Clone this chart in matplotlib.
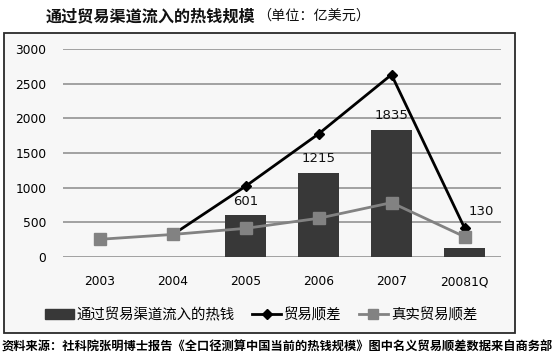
import numpy as np
import matplotlib
matplotlib.use("Agg")
import matplotlib.pyplot as plt
from matplotlib.patches import Rectangle
from matplotlib.lines import Line2D

plt.rcParams['font.family'] = ['Noto Sans CJK SC', 'DejaVu Sans']

# ── data ────────────────────────────────────────────────────────────────────
categories = ["2003", "2004", "2005", "2006", "2007", "20081Q"]
hot_money = [np.nan, np.nan, 601, 1215, 1835, 130]          # bars
trade_surplus = [np.nan, 320, 1020, 1775, 2630, 420]         # black diamonds
real_surplus = [255, 325, 413, 558, 784, 293]                # grey squares
bar_labels = ["", "", "601", "1215", "1835", "130"]
yticks = [0, 500, 1000, 1500, 2000, 2500, 3000]

BAR_COL = "#383838"
LINE_COL = "#000000"
REAL_COL = "#828282"
GRID_COL = "#8a8a8a"

fig = plt.figure(figsize=(5.6, 3.64), dpi=100)
fig.patch.set_facecolor("white")

# outer chart box
box = Rectangle((4 / 560, 31 / 364), 511 / 560, 300 / 364,
                transform=fig.transFigure, facecolor="#f7f7f7",
                edgecolor="#2a2a2a", lw=1.3, zorder=-1)
fig.patches.append(box)

ax = fig.add_axes([63 / 560, 107 / 364, 438 / 560, 208 / 364])
ax.set_facecolor("none")
ax.set_zorder(1)
x = np.arange(len(categories))

ax.bar(x, hot_money, width=0.56, color=BAR_COL, zorder=2)
ax.plot(x, trade_surplus, color=LINE_COL, lw=2.0, marker="D", ms=5, zorder=3)
ax.plot(x, real_surplus, color=REAL_COL, lw=2.0, marker="s", ms=8, zorder=4)

for i, lab in enumerate(bar_labels):
    if not lab:
        continue
    if i == len(categories) - 1:
        ax.text(i + 0.23, trade_surplus[i] + 230, lab, ha="center", va="center",
                fontsize=9.5, family="DejaVu Sans", color="#111")
    else:
        ax.text(i, hot_money[i] + 200, lab, ha="center", va="center",
                fontsize=9.5, family="DejaVu Sans", color="#111")

ax.set_xlim(-0.5, len(categories) - 0.5)
ax.set_ylim(0, 3000)
ax.set_yticks(yticks)
ax.set_xticks(x)
ax.set_xticklabels(categories, family="DejaVu Sans", fontsize=8.8)
ax.set_yticklabels([str(v) for v in yticks], family="DejaVu Sans", fontsize=8.8)
ax.tick_params(axis="y", length=0, pad=12)
ax.tick_params(axis="x", length=0, pad=13)
ax.grid(axis="y", color=GRID_COL, lw=1.1, zorder=1)
ax.set_axisbelow(True)
for s in ax.spines.values():
    s.set_visible(False)

# legend
handles = [
    Rectangle((0, 0), 1, 1, color=BAR_COL),
    Line2D([], [], color=LINE_COL, lw=2.0, marker="D", ms=5),
    Line2D([], [], color=REAL_COL, lw=2.0, marker="s", ms=7),
]
labels = ["通过贸易渠道流入的热钱", "贸易顺差", "真实贸易顺差"]
fig.legend(handles, labels, loc="center", bbox_to_anchor=(261 / 560, 1 - 315 / 364),
           ncol=3, frameon=False, fontsize=10.4, handlelength=2.0,
           handletextpad=0.2, columnspacing=1.2)

# title
fig.text(46 / 560, 1 - 16 / 364, "通过贸易渠道流入的热钱规模", fontsize=11.6,
         fontweight="bold", ha="left", va="center", color="#111")
fig.text(257 / 560, 1 - 16 / 364, "（单位：亿美元）", fontsize=10.2,
         ha="left", va="center", color="#111")

# footer
fig.text(2 / 560, 1 - 347 / 364,
         "资料来源：社科院张明博士报告《全口径测算中国当前的热钱规模》图中名义贸易顺差数据来自商务部",
         fontsize=8.8, fontweight="bold", ha="left", va="center", color="#000")

fig.savefig("out.png", dpi=100)
